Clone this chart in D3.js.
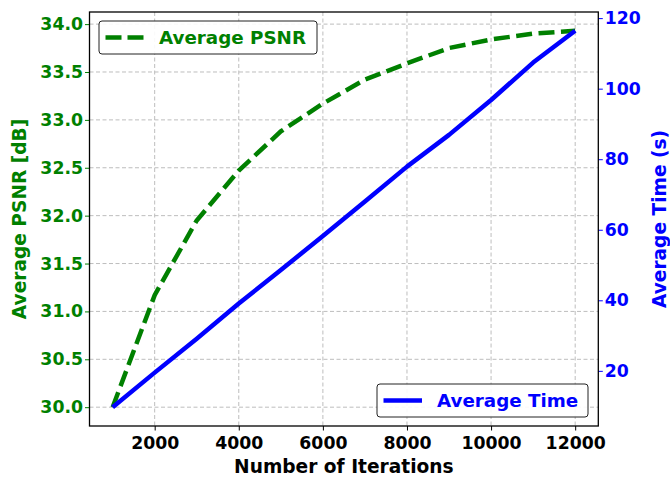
<!DOCTYPE html>
<html>
<head>
<meta charset="utf-8">
<script src="https://cdn.jsdelivr.net/npm/d3@7"></script>
<style>
  body { margin: 0; background: #fff; }
  text { font-family: "DejaVu Sans", sans-serif; font-weight: bold; }
</style>
</head>
<body>
<div id="chart"></div>
<script>
// data
let iterations = [1000, 2000, 3000, 4000, 5000, 6000, 7000, 8000, 9000, 10000, 11000, 12000];
let psnr = [30.0, 31.17, 31.95, 32.47, 32.88, 33.17, 33.42, 33.59, 33.75, 33.84, 33.90, 33.93];
let avgTime = [9.7, 19.5, 29.1, 39.1, 48.6, 58.2, 68.0, 77.9, 86.9, 96.8, 107.4, 116.4];
let xTicks = [2000, 4000, 6000, 8000, 10000, 12000];
let psnrTicks = [30.0, 30.5, 31.0, 31.5, 32.0, 32.5, 33.0, 33.5, 34.0];
let timeTicks = [20, 40, 60, 80, 100, 120];

let width = 670, height = 477;
let plotLeft = 89.5, plotRight = 598.3, plotTop = 12, plotBottom = 426;
let green = '#008000', blue = '#0000ff';

// matplotlib style 5% margins
let padded = arr => {
  let [lo, hi] = d3.extent(arr);
  let m = (hi - lo) * 0.05;
  return [lo - m, hi + m];
};

let svg = d3.select('#chart').append('svg')
  .attr('width', width)
  .attr('height', height);

let x = d3.scaleLinear().domain(padded(iterations)).range([plotLeft, plotRight]);
let yL = d3.scaleLinear().domain(padded(psnr)).range([plotBottom, plotTop]);
let yR = d3.scaleLinear().domain(padded(avgTime)).range([plotBottom, plotTop]);

// grid
let grid = svg.append('g')
  .attr('stroke', '#bdbdbd')
  .attr('stroke-width', 1)
  .attr('stroke-dasharray', '4,2.5');
grid.selectAll('line.v').data(xTicks).enter().append('line')
  .attr('x1', d => x(d)).attr('x2', d => x(d))
  .attr('y1', plotTop).attr('y2', plotBottom);
grid.selectAll('line.h').data(psnrTicks).enter().append('line')
  .attr('x1', plotLeft).attr('x2', plotRight)
  .attr('y1', d => yL(d)).attr('y2', d => yL(d));

// axes
let xAxis = svg.append('g')
  .attr('transform', `translate(0,${plotBottom})`)
  .call(d3.axisBottom(x).tickValues(xTicks).tickFormat(d3.format('d')).tickSize(4.5).tickPadding(6));
xAxis.selectAll('text').attr('font-size', 17.3).attr('fill', '#000')
  .style('font-family', '"DejaVu Sans", sans-serif');
xAxis.select('.domain').remove();

let leftAxis = svg.append('g')
  .attr('transform', `translate(${plotLeft},0)`)
  .call(d3.axisLeft(yL).tickValues(psnrTicks).tickFormat(d3.format('.1f')).tickSize(4.5).tickPadding(2));
leftAxis.selectAll('text').attr('font-size', 17.3).attr('fill', green)
  .style('font-family', '"DejaVu Sans", sans-serif');
leftAxis.selectAll('.tick line').attr('stroke', green);
leftAxis.select('.domain').remove();

let rightAxis = svg.append('g')
  .attr('transform', `translate(${plotRight},0)`)
  .call(d3.axisRight(yR).tickValues(timeTicks).tickSize(4.5).tickPadding(2));
rightAxis.selectAll('text').attr('font-size', 17.3).attr('fill', blue)
  .style('font-family', '"DejaVu Sans", sans-serif');
rightAxis.selectAll('.tick line').attr('stroke', blue);
rightAxis.select('.domain').remove();

// lines
let psnrLine = d3.line().x((d, i) => x(iterations[i])).y(d => yL(d));
let timeLine = d3.line().x((d, i) => x(iterations[i])).y(d => yR(d));

svg.append('path')
  .attr('d', psnrLine(psnr))
  .attr('fill', 'none')
  .attr('stroke', green)
  .attr('stroke-width', 4.5)
  .attr('stroke-dasharray', '16,6.5');

svg.append('path')
  .attr('d', timeLine(avgTime))
  .attr('fill', 'none')
  .attr('stroke', blue)
  .attr('stroke-width', 4.5)
  .attr('stroke-linejoin', 'round');

// frame
svg.append('rect')
  .attr('x', plotLeft).attr('y', plotTop)
  .attr('width', plotRight - plotLeft).attr('height', plotBottom - plotTop)
  .attr('fill', 'none')
  .attr('stroke', '#000')
  .attr('stroke-width', 1.3);

// axis labels
svg.append('text')
  .attr('x', (plotLeft + plotRight) / 2).attr('y', 472.6)
  .attr('text-anchor', 'middle')
  .attr('font-size', 18.6)
  .text('Number of Iterations');

svg.append('text')
  .attr('transform', `translate(25.6,${(plotTop + plotBottom) / 2}) rotate(-90)`)
  .attr('text-anchor', 'middle')
  .attr('font-size', 18.6)
  .attr('fill', green)
  .text('Average PSNR [dB]');

svg.append('text')
  .attr('transform', `translate(665.6,${(plotTop + plotBottom) / 2}) rotate(-90)`)
  .attr('text-anchor', 'middle')
  .attr('font-size', 18.6)
  .attr('fill', blue)
  .text('Average Time (s)');

// legends
let legends = [
  {box: [99, 21, 218, 33], label: 'Average PSNR', color: green, dash: '16,6'},
  {box: [377, 384, 211, 33], label: 'Average Time', color: blue, dash: null}
];
legends.forEach(l => {
  let [bx, by, bw, bh] = l.box;
  let g = svg.append('g');
  g.append('rect')
    .attr('x', bx).attr('y', by).attr('width', bw).attr('height', bh)
    .attr('rx', 3)
    .attr('fill', 'rgba(255,255,255,0.9)')
    .attr('stroke', '#222')
    .attr('stroke-width', 1);
  let cy = by + bh / 2;
  g.append('line')
    .attr('x1', bx + 6.5).attr('x2', bx + 45)
    .attr('y1', cy).attr('y2', cy)
    .attr('stroke', l.color)
    .attr('stroke-width', 4.5)
    .attr('stroke-dasharray', l.dash);
  g.append('text')
    .attr('x', bx + 60).attr('y', cy + 6.7)
    .attr('font-size', 18.3)
    .attr('fill', l.color)
    .text(l.label);
});
</script>
</body>
</html>
